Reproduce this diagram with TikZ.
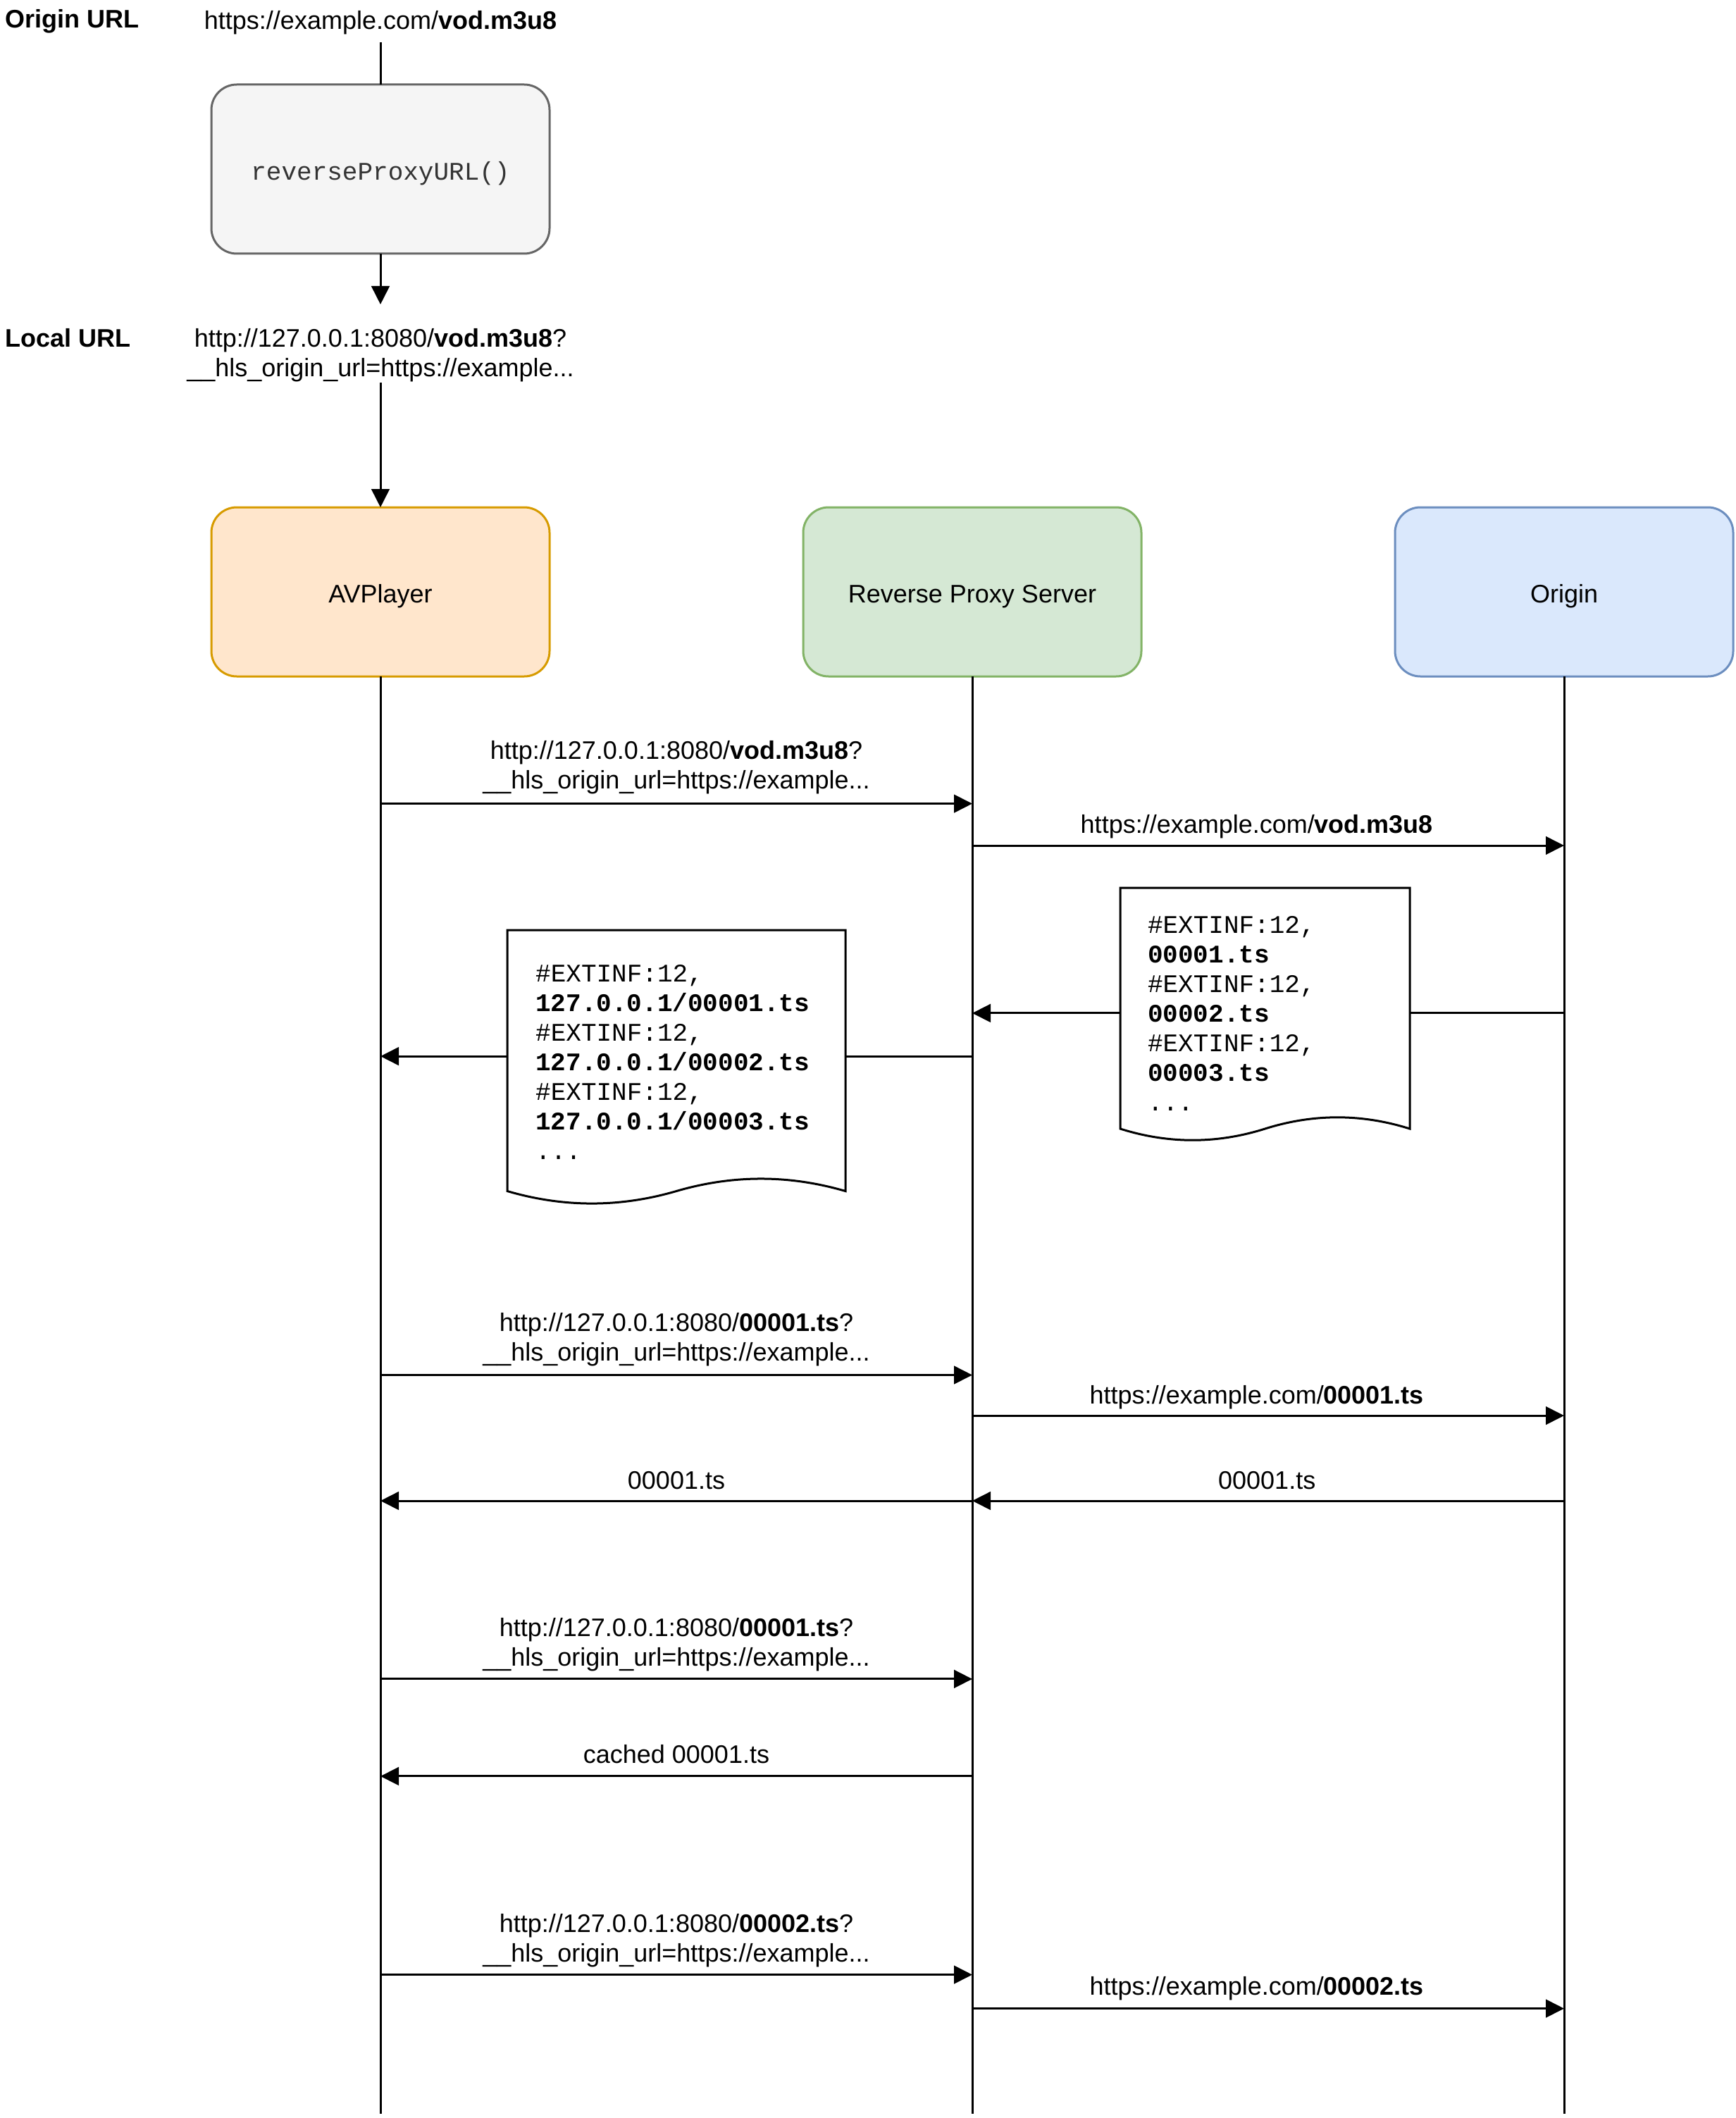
\documentclass[tikz,border=0pt]{standalone}
\usepackage{fontspec}
\setmainfont{Liberation Sans}
\setmonofont{Liberation Mono}
\usetikzlibrary{arrows.meta,calc}
\definecolor{grayfill}{HTML}{F5F5F5}
\definecolor{graydraw}{HTML}{666666}
\definecolor{graytext}{HTML}{333333}
\definecolor{avfill}{HTML}{FFE6CC}
\definecolor{avdraw}{HTML}{D79B00}
\definecolor{pxfill}{HTML}{D5E8D4}
\definecolor{pxdraw}{HTML}{82B366}
\definecolor{ocfill}{HTML}{DAE8FC}
\definecolor{ocdraw}{HTML}{6C8EBF}
\begin{document}
\begin{tikzpicture}[x=0.75pt,y=-0.75pt,
  every node/.style={font=\fontsize{9}{10.5}\selectfont, inner sep=0pt, outer sep=0pt},
  lbl/.style={align=center},
  msg/.style={line width=0.75pt, -{Triangle[length=6.5pt,width=6.4pt]}},
  plain/.style={line width=0.75pt},
  actor/.style={draw, rounded corners=9pt, minimum width=120pt, minimum height=60pt, line width=0.75pt, text height=7.6pt, text depth=0pt},
  docline/.style={draw, fill=white, line width=0.75pt},
  doctext/.style={align=left, font=\ttfamily\fontsize{9}{10.5}\selectfont, anchor=west}
]
\useasboundingbox (0,0) rectangle (821,1002);

% top labels
\node[font=\bfseries\fontsize{9}{10.5}\selectfont, anchor=west] (olabel) at (2.5,10.2) {Origin URL};
\node[minimum height=15pt] (ourl) at (180,10.6) {https://example.com/\textbf{vod.m3u8}};
\node[actor, fill=grayfill, draw=graydraw, text=graytext, font=\ttfamily\fontsize{9}{10.5}\selectfont] (rp) at (180,80) {reverseProxyURL()};
\coordinate (rptop) at (180,20);
\draw[plain] (rptop) -- (rp);

\node[font=\bfseries\fontsize{9}{10.5}\selectfont, anchor=west] (llabel) at (2.5,160) {Local URL};
\node[lbl] (lurl) at (180,168) {http://127.0.0.1:8080/\textbf{vod.m3u8}?\\\_\_hls\_origin\_url=https://example...};
\coordinate (lutop) at (180,144);
\coordinate (lubot) at (180,181);
\draw[msg] (rp) -- (lutop);

% actors
\node[actor, fill=avfill, draw=avdraw] (av) at (180,280) {AVPlayer};
\node[actor, fill=pxfill, draw=pxdraw] (px) at (460,280) {Reverse Proxy Server};
\node[actor, fill=ocfill, draw=ocdraw] (oc) at (740,280) {Origin};
\draw[msg] (lubot) -- (av);

% lifelines
\coordinate (avend) at (180,1000);
\coordinate (pxend) at (460,1000);
\coordinate (ocend) at (740,1000);
\draw[plain] (av) -- (avend);
\draw[plain] (px) -- (pxend);
\draw[plain] (oc) -- (ocend);

% message 1
\draw[msg] (av.south |- 0,380.2) -- (px.south |- 0,380.2);
\node[lbl] (m1) at (320,362.9) {http://127.0.0.1:8080/\textbf{vod.m3u8}?\\\_\_hls\_origin\_url=https://example...};
\draw[msg] (px.south |- 0,400) -- (oc.south |- 0,400);
\node (m2) at (594.6,390.9) {https://example.com/\textbf{vod.m3u8}};

% right document
\draw[docline] (530,420) -- (667,420) -- (667,534)
  .. controls (644.2,526.8) and (621.3,526.8) .. (598.5,534)
  .. controls (575.7,541.2) and (552.8,541.2) .. (530,534) -- cycle;
\node[doctext] (d1) at (543,479.6) {\#EXTINF:12,\\\textbf{00001.ts}\\\#EXTINF:12,\\\textbf{00002.ts}\\\#EXTINF:12,\\\textbf{00003.ts}\\...};
\coordinate (d1e) at (667,479.3);
\coordinate (d1w) at (530,479.3);
\draw[plain] (oc.south |- 0,479.3) -- (d1e);
\draw[msg] (d1w) -- (px.south |- 0,479.3);

% left document
\draw[docline] (240,440) -- (400,440) -- (400,563.5)
  .. controls (373.3,555.7) and (346.7,555.7) .. (320,563.5)
  .. controls (293.3,571.3) and (266.7,571.3) .. (240,563.5) -- cycle;
\node[doctext] (d2) at (253.4,502.6) {\#EXTINF:12,\\\textbf{127.0.0.1/00001.ts}\\\#EXTINF:12,\\\textbf{127.0.0.1/00002.ts}\\\#EXTINF:12,\\\textbf{127.0.0.1/00003.ts}\\...};
\coordinate (d2e) at (400,499.7);
\coordinate (d2w) at (240,499.7);
\draw[plain] (px.south |- 0,499.7) -- (d2e);
\draw[msg] (d2w) -- (av.south |- 0,499.7);

% segment 00001
\draw[msg] (av.south |- 0,650.5) -- (px.south |- 0,650.5);
\node[lbl] (m3) at (320,633.8) {http://127.0.0.1:8080/\textbf{00001.ts}?\\\_\_hls\_origin\_url=https://example...};
\draw[msg] (px.south |- 0,669.7) -- (oc.south |- 0,669.7);
\node (m4) at (594.6,660.9) {https://example.com/\textbf{00001.ts}};
\draw[msg] (oc.south |- 0,710) -- (px.south |- 0,710);
\node (m5) at (599.4,700.3) {00001.ts};
\draw[msg] (px.south |- 0,710) -- (av.south |- 0,710);
\node (m6) at (320,700.3) {00001.ts};

% cached
\draw[msg] (av.south |- 0,794.3) -- (px.south |- 0,794.3);
\node[lbl] (m7) at (320,778.1) {http://127.0.0.1:8080/\textbf{00001.ts}?\\\_\_hls\_origin\_url=https://example...};
\draw[msg] (px.south |- 0,840.3) -- (av.south |- 0,840.3);
\node (m8) at (320,829.8) {cached 00001.ts};

% segment 00002
\draw[msg] (av.south |- 0,934.2) -- (px.south |- 0,934.2);
\node[lbl] (m9) at (320,917.9) {http://127.0.0.1:8080/\textbf{00002.ts}?\\\_\_hls\_origin\_url=https://example...};
\draw[msg] (px.south |- 0,950.2) -- (oc.south |- 0,950.2);
\node (m10) at (594.6,940.6) {https://example.com/\textbf{00002.ts}};
\end{tikzpicture}
\end{document}
